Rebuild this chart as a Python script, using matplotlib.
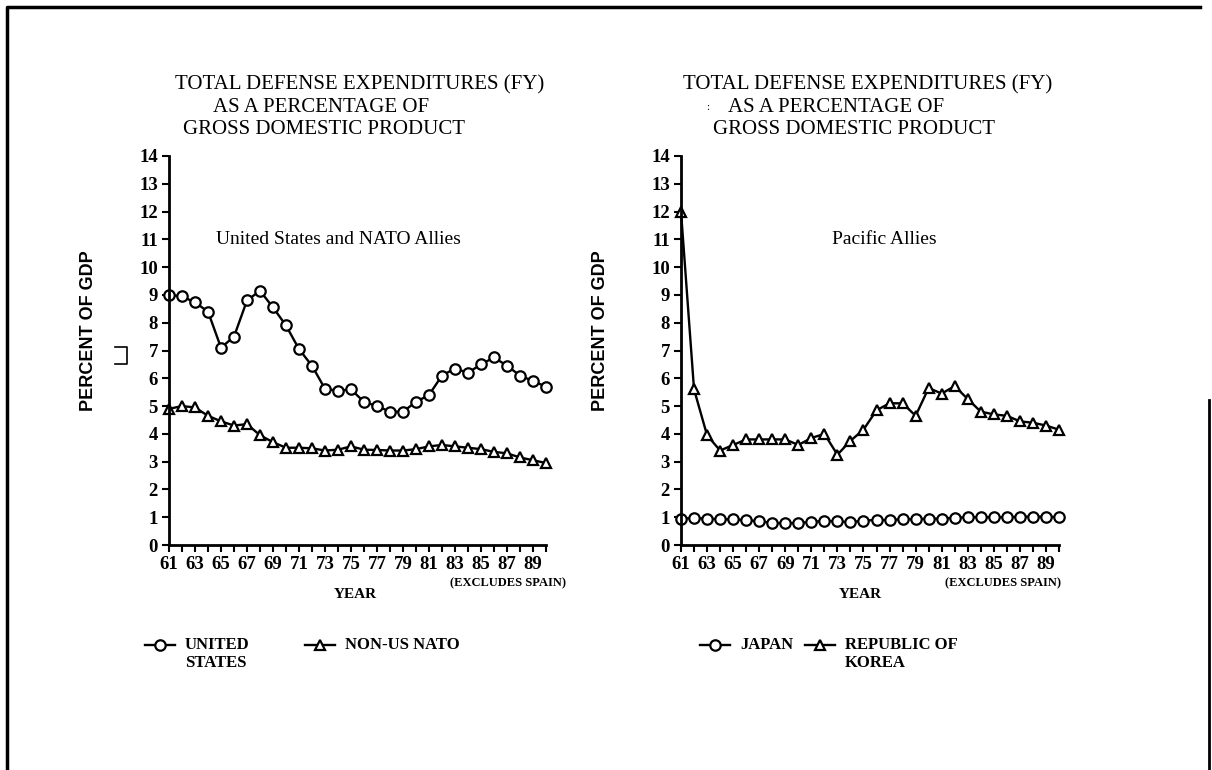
import matplotlib.pyplot as plt
from matplotlib.lines import Line2D

# data (percent of GDP, FY 1961-1990)
years = list(range(61, 91))
us = [9.0, 8.95, 8.73, 8.4, 7.1, 7.5, 8.8, 9.15, 8.55, 7.9,
      7.05, 6.45, 5.62, 5.55, 5.6, 5.15, 5.0, 4.8, 4.8, 5.15,
      5.4, 6.1, 6.35, 6.2, 6.5, 6.75, 6.45, 6.1, 5.9, 5.7]
nato = [4.9, 5.0, 4.95, 4.65, 4.45, 4.3, 4.35, 3.95, 3.7, 3.5,
        3.5, 3.48, 3.4, 3.43, 3.55, 3.43, 3.42, 3.4, 3.4, 3.45,
        3.55, 3.6, 3.55, 3.5, 3.45, 3.35, 3.3, 3.15, 3.05, 2.95]
japan = [0.95, 0.97, 0.95, 0.93, 0.92, 0.9, 0.85, 0.8, 0.78, 0.8,
         0.83, 0.87, 0.85, 0.82, 0.88, 0.9, 0.9, 0.93, 0.93, 0.95,
         0.95, 0.98, 1.0, 1.0, 1.0, 1.0, 1.02, 1.02, 1.02, 1.0]
korea = [12.0, 5.6, 3.95, 3.4, 3.6, 3.8, 3.8, 3.8, 3.8, 3.6,
         3.85, 4.0, 3.25, 3.75, 4.15, 4.85, 5.1, 5.1, 4.65, 5.65,
         5.45, 5.72, 5.25, 4.8, 4.7, 4.65, 4.45, 4.4, 4.3, 4.15]
yticks = list(range(0, 15))
xticklabels = [str(y) if y % 2 == 1 else '' for y in years]

W, H = 1212, 770
SERIF = ['Liberation Serif', 'DejaVu Serif']
NARROW = ['Liberation Sans Narrow', 'Liberation Sans', 'DejaVu Sans']


def px(x, y):
    return x / W, 1 - y / H


fig = plt.figure(figsize=(W / 100, H / 100), dpi=100)
ax1 = fig.add_axes([169 / W, 1 - 545 / H, 377 / W, 389 / H])
ax2 = fig.add_axes([681 / W, 1 - 545 / H, 378 / W, 389 / H])

mk = dict(color='black', lw=1.7, ms=7.5, mfc='white', mec='black', mew=1.6, clip_on=False)
ax1.plot(years, us, marker='o', **mk)
ax1.plot(years, nato, marker='^', **mk)
ax2.plot(years, japan, marker='o', **mk)
ax2.plot(years, korea, marker='^', **mk)

for ax in (ax1, ax2):
    ax.set_xlim(61, 90)
    ax.set_ylim(0, 14)
    ax.set_yticks(yticks)
    ax.set_xticks(years)
    ax.set_xticklabels(xticklabels)
    for s in ('top', 'right'):
        ax.spines[s].set_visible(False)
    for s in ('left', 'bottom'):
        ax.spines[s].set_linewidth(2)
    ax.tick_params(direction='out', length=5, width=1.5, pad=3)
    for lab in ax.get_xticklabels() + ax.get_yticklabels():
        lab.set_family(SERIF)
        lab.set_fontweight('bold')
        lab.set_fontsize(13.5)
    ax.set_ylabel('PERCENT OF GDP', family=NARROW, fontweight='bold', fontsize=13)
    ax.yaxis.set_label_coords(-0.19, 0.55)
    ax.patch.set_alpha(0)

ax1.text(74, 11, 'United States and NATO Allies', ha='center', va='center', family=SERIF, fontsize=14)
ax2.text(76.6, 11, 'Pacific Allies', ha='center', va='center', family=SERIF, fontsize=14)

# titles (three lines, indented like the typed original)
tkw = dict(family=SERIF, fontsize=15, va='center', ha='left')
for x0, offs in ((175, (0, 38, 8)), (683, (0, 45, 30))):
    fig.text(*px(x0 + offs[0], 85), 'TOTAL DEFENSE EXPENDITURES (FY)', **tkw)
    fig.text(*px(x0 + offs[1], 108), 'AS A PERCENTAGE OF', **tkw)
    fig.text(*px(x0 + offs[2], 130), 'GROSS DOMESTIC PRODUCT', **tkw)
fig.text(*px(706, 108), ':', family=SERIF, fontsize=8, va='center')

# x-axis labels
for xc, xs in ((355, 450), (860, 945)):
    fig.text(*px(xc, 595), 'YEAR', family=SERIF, fontweight='bold', fontsize=11, ha='center', va='center')
    fig.text(*px(xs, 583), '(EXCLUDES SPAIN)', family=SERIF, fontweight='bold', fontsize=9, ha='left', va='center')

# legends drawn as keys in figure space
lkw = dict(family=SERIF, fontweight='bold', fontsize=12, ha='left', va='center')
entries = [(145, 'o', 'UNITED\nSTATES'), (305, '^', 'NON-US NATO'),
           (700, 'o', 'JAPAN'), (805, '^', 'REPUBLIC OF\nKOREA')]
for x0, m, lab in entries:
    xa, ya = px(x0, 645)
    xb, _ = px(x0 + 30, 645)
    fig.add_artist(Line2D([xa, xb], [ya, ya], color='black', lw=1.7))
    fig.add_artist(Line2D([(xa + xb) / 2], [ya], marker=m, ms=7.5, mfc='white', mec='black', mew=1.6))
    for i, t in enumerate(lab.split('\n')):
        fig.text(*px(x0 + 40, 645 + 18 * i), t, **lkw)

# small bracket mark under left y-label
bx = [115 / W, 127 / W, 127 / W, 115 / W]
by = [1 - 347 / H, 1 - 347 / H, 1 - 364 / H, 1 - 364 / H]
fig.add_artist(Line2D(bx, by, color='black', lw=1.2))

# page frame from the scan
fig.add_artist(Line2D([7 / W, 7 / W, 1200 / W], [0, 1 - 7 / H, 1 - 7 / H], color='black', lw=2.5))
fig.add_artist(Line2D([1209 / W, 1209 / W], [0, 1 - 400 / H], color='black', lw=2))

fig.savefig('out.png', dpi=100)
